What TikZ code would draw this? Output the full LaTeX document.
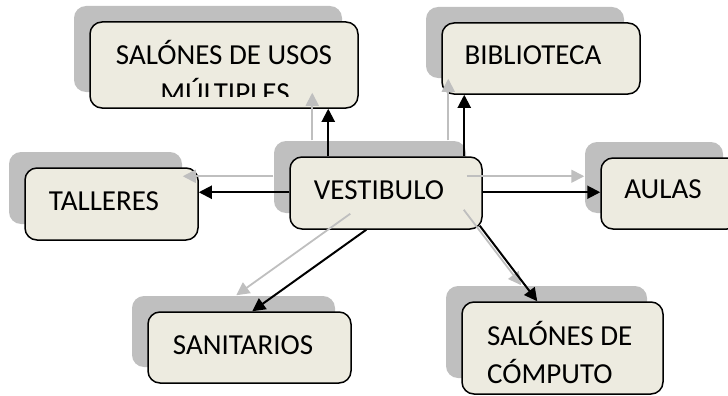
\documentclass[tikz,border=0pt]{standalone}
\usepackage{fontspec}
\setmainfont{Carlito}
\usetikzlibrary{arrows.meta,shadows,calc}
\definecolor{boxfill}{RGB}{237,235,224}
\definecolor{shadegray}{RGB}{191,191,191}
\newcommand\drawlinks[1]{%
  \draw[#1] ($(vest.north west)+(39,0)$) -- ($(sal.south west)+(239,0)$);
  \draw[#1] ($(vest.north west)+(175,0)$) -- ($(bib.south west)+(23,0)$);
  \draw[#1] ($(vest.north west)+(0,36)$) -- ($(tal.north east)+(0,25)$);
  \draw[#1] ($(vest.north east)+(0,36)$) -- ($(aulas.north west)+(0,35)$);
  \draw[#1] ($(vest.south west)+(77,0)$) -- ($(sani.north west)+(105,0)$);
  \draw[#1] ($(vest.south east)+(-3,-4)$) -- ($(comp.north west)+(76,0)$);
}
\begin{document}
\begin{tikzpicture}[x=1pt,y=-1pt,
  box/.style={draw=black, line width=1.5pt, rounded corners=12pt, fill=boxfill,
    inner sep=0pt,
    general shadow={fill=shadegray, shadow xshift=-16pt, shadow yshift=16pt}},
  lbl/.style={inner sep=0pt, font=\fontsize{29}{38}\selectfont},
  blackarrow/.style={draw=black, line width=2pt, -{Triangle[length=13pt,width=13pt]}},
  grayarrow/.style={draw=shadegray, line width=1.8pt, -{Triangle[length=13pt,width=13pt]}}]
\useasboundingbox (0,0) rectangle (728,396);
\clip (0,0) rectangle (728,396);
% boxes
\node[box, minimum width=268pt, minimum height=86pt] (sal) at (224,65) {};
\node[box, minimum width=198pt, minimum height=71pt] (bib) at (541,58.5) {};
\node[box, minimum width=173pt, minimum height=72pt] (tal) at (111.5,204) {};
\node[box, minimum width=192pt, minimum height=72pt] (vest) at (386,193) {};
\node[box, minimum width=138pt, minimum height=71pt] (aulas) at (670,193.5) {};
\node[box, minimum width=203pt, minimum height=71pt] (sani) at (249.5,347.5) {};
\node[box, minimum width=201pt, minimum height=92pt] (comp) at (562.5,348) {};
% texts
\begin{scope}
  \clip (90,22) rectangle (358,96);
  \node[lbl, anchor=base] (tsal1) at (224,65) {SALÓNES DE USOS};
  \node[lbl, anchor=base] (tsal2) at (225,102) {MÚLTIPLES};
\end{scope}
\node[lbl, anchor=base] (tbib) at (533,65) {BIBLIOTECA};
\node[lbl, anchor=base] (ttal) at (104,210) {TALLERES};
\node[lbl, anchor=base] (tvest) at (379,199) {VESTIBULO};
\node[lbl, anchor=base] (taulas) at (663,198) {AULAS};
\node[lbl, anchor=base] (tsani) at (243,354) {SANITARIOS};
\node[lbl, anchor=base west] (tcomp1) at (487,345) {SALÓNES DE};
\node[lbl, anchor=base west] (tcomp2) at (487,383) {CÓMPUTO};
% shadow connectors
\begin{scope}[transform canvas={shift={(-16pt,16pt)}}]
  \drawlinks{grayarrow}
\end{scope}
% connectors
\drawlinks{blackarrow}
\end{tikzpicture}
\end{document}
